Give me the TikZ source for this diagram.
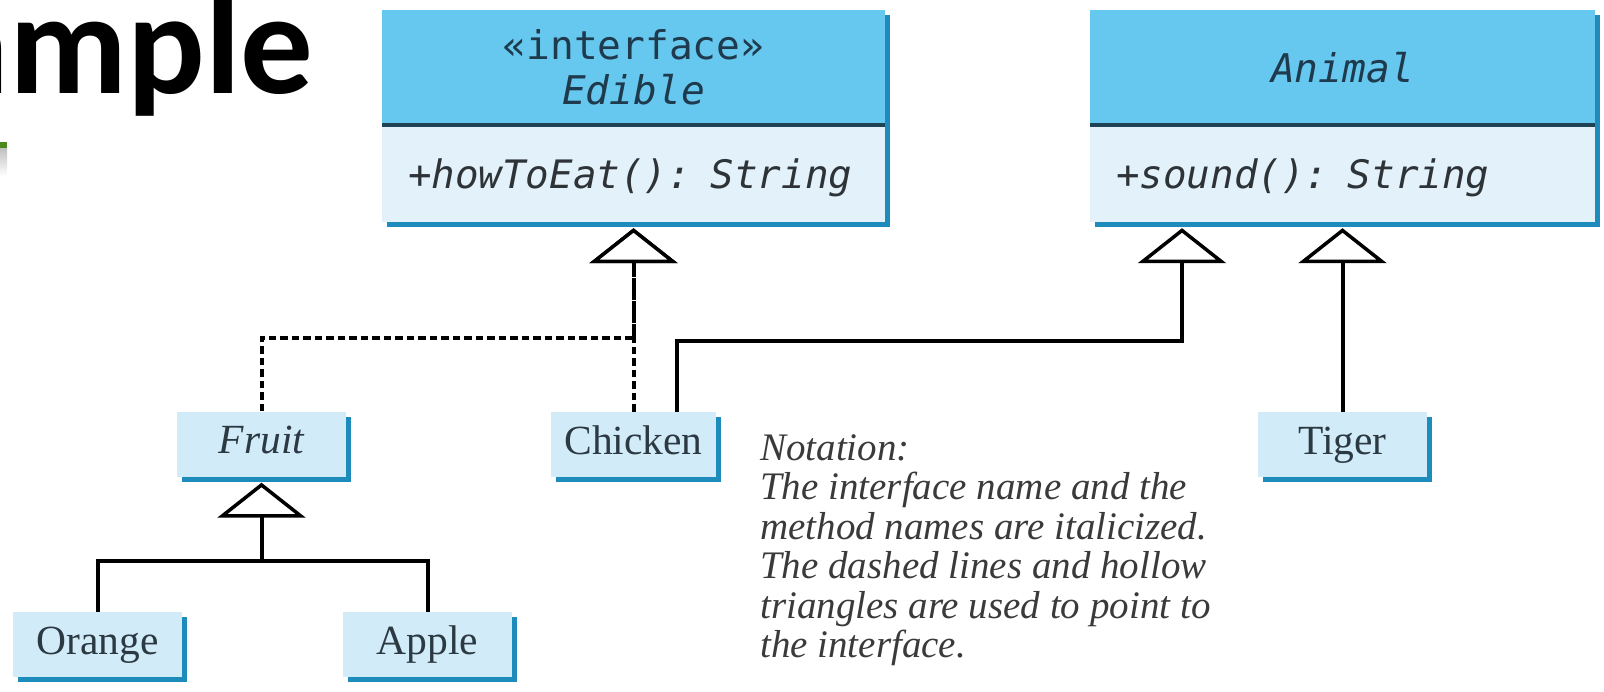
\documentclass[tikz,border=0pt]{standalone}
\usepackage{fontspec}
\setmainfont{Liberation Serif}
\newfontfamily\umlmono{DejaVu Sans Mono}
\newfontfamily\slidefont{Carlito}
\usetikzlibrary{arrows.meta,shadows}

\definecolor{headblue}{HTML}{66C8EE}
\definecolor{bodyblue}{HTML}{E3F2FA}
\definecolor{leafblue}{HTML}{D2EBF8}
\definecolor{shadowblue}{HTML}{1D8CBC}
\definecolor{ruleline}{HTML}{1F4254}
\definecolor{headtext}{HTML}{1E3A4C}
\definecolor{bodytext}{HTML}{2E3338}
\definecolor{leaftext}{HTML}{2B3A42}
\definecolor{notetext}{HTML}{3A3A3A}
\definecolor{titlegreen}{HTML}{4A8A1A}

\begin{document}
\begin{tikzpicture}[x=1pt, y=-1pt,
  boxshadow/.style={general shadow={fill=shadowblue, shadow xshift=5pt, shadow yshift=-5pt}},
  umlhead/.style={boxshadow, fill=headblue, inner sep=0pt,
    minimum width=#1, minimum height=115pt, align=center, text=headtext,
    font=\umlmono\fontsize{39.5}{45}\selectfont},
  umlbody/.style={boxshadow, fill=bodyblue, inner ysep=0pt, inner xsep=26pt,
    text width=#1-52pt, minimum height=97pt, align=left, text=bodytext,
    text height=36pt, text depth=7pt,
    font=\umlmono\itshape\fontsize{39.2}{45}\selectfont},
  leafbox/.style={boxshadow, fill=leafblue, inner sep=0pt,
    minimum width=#1, minimum height=65pt, text=leaftext,
    text height=28pt, text depth=9pt,
    font=\fontsize{41.5}{41.5}\selectfont},
  leafbox/.default=169pt,
  plainline/.style={draw=black, line width=4pt, line join=miter},
  realize/.style={plainline,
    -{Triangle[fill=white, line width=3.5pt, length=35pt, width=88pt]}},
  implement/.style={realize, dash pattern=on 7.5pt off 4pt},
]
\useasboundingbox (0,0) rectangle (1604,691);

% slide title, running off the left edge
\begin{scope}
  \clip (0,0) rectangle (1604,691);
  \node[anchor=base east, inner sep=0pt, text=black,
        font=\slidefont\bfseries\fontsize{145}{145}\selectfont]
        (slidetitle) at (314,93) {ample};
  \fill[titlegreen] (0,142) rectangle (7,148);
  \shade[top color=black!25, bottom color=white] (0,148) rectangle (7,176);
\end{scope}

% interface Edible
\node[umlhead=503pt] (edibleHead) at (633.5,67.5)
  {«interface»\\\itshape Edible};
\node[umlbody=503pt] (edibleBody) at (633.5,173.5) {+howToEat(): String};
\draw[ruleline, line width=4pt] (edibleHead.south west) -- (edibleHead.south east);

% abstract class Animal
\node[umlhead=505pt] (animalHead) at (1342.5,67.5) {\itshape Animal};
\node[umlbody=505pt] (animalBody) at (1342.5,173.5) {+sound(): String};
\draw[ruleline, line width=4pt] (animalHead.south west) -- (animalHead.south east);

% concrete and abstract classes
\node[leafbox] (fruit) at (261.5,444) {\itshape Fruit};
\node[leafbox=165pt] (chicken) at (633.5,444.5) {Chicken};
\node[leafbox] (tiger) at (1342.5,444.5) {Tiger};
\node[leafbox] (orange) at (97.5,644.5) {Orange};
\node[leafbox] (apple) at (427.5,644.5) {Apple};

% explanatory note
\node[anchor=north west, inner sep=0pt, align=left, text=notetext,
      font=\itshape\fontsize{39}{39.5}\selectfont] (note) at (760,434)
  {Notation:\\
   The interface name and the\\
   method names are italicized.\\
   The dashed lines and hollow\\
   triangles are used to point to\\
   the interface.};

% junction points of the connectors
\coordinate (edibleTip) at ([yshift=-6pt]edibleBody.south);
\coordinate (ediblehub) at (633.5,338);
\coordinate (animalTipL) at ([xshift=-160.5pt,yshift=-6pt]animalBody.south);
\coordinate (animalhub) at (1182,341);
\coordinate (fruithub) at (261.5,561);

% realizations of Edible
\draw[implement] (fruit.north) |- (ediblehub) -- (edibleTip);
\draw[implement] (chicken.north) -- (edibleTip);

% subclasses of Animal
\draw[realize] ([xshift=43.5pt]chicken.north) |- (animalhub) -- (animalTipL);
\draw[realize] (tiger.north) -- ([yshift=-6pt]animalBody.south);

% subclasses of Fruit
\draw[realize] (orange.north) |- (fruithub) -- ([yshift=-6pt]fruit.south);
\draw[plainline] (apple.north) |- (fruithub);
\end{tikzpicture}
\end{document}
